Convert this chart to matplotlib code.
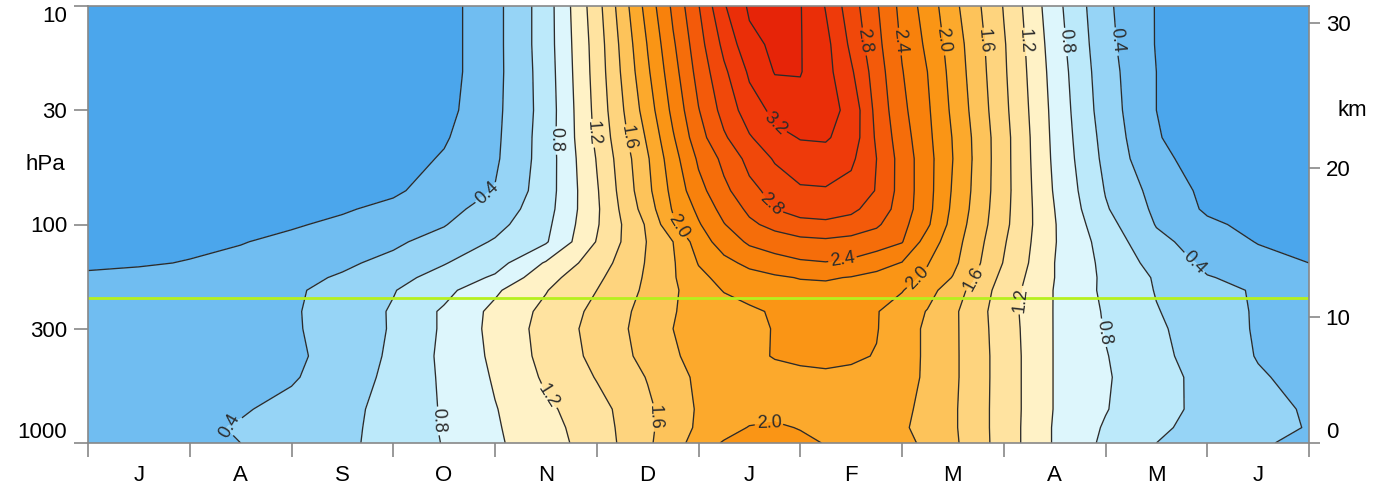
import numpy as np
import matplotlib

matplotlib.use("Agg")
import matplotlib.pyplot as plt
from matplotlib.ticker import NullLocator

plt.rcParams["font.family"] = ["Liberation Sans", "DejaVu Sans"]

# month letters, July .. June
months = ["J", "A", "S", "O", "N", "D", "J", "F", "M", "A", "M", "J"]

# grid columns in months from 1 July (0) to 30 June (12), finer in the winter core
col_month = [0, 0.5, 1, 1.5, 2, 2.5, 3, 3.5, 4, 4.5, 5, 5.5,
             5.75, 6, 6.25, 6.5, 6.75, 7, 7.25, 7.5, 7.75, 8, 8.25, 8.5,
             9, 9.5, 10, 10.5, 11, 11.5, 12]

# pressure levels (hPa) of the grid rows, surface first
pressure = [1000, 850, 700, 500, 400, 300, 250, 200, 175, 150, 120, 100, 85, 70, 50, 40, 30, 20, 15, 10]

# field values, one list per pressure level
r1000 = [0.27, 0.31, 0.35, 0.40, 0.48, 0.56, 0.67, 0.81, 0.97, 1.12, 1.29, 1.57,
         1.71, 1.89, 2.02, 2.05, 2.07, 2.05, 1.99, 1.94, 1.89, 1.84, 1.77, 1.64,
         1.31, 0.98, 0.76, 0.60, 0.51, 0.42, 0.36]
r850 = [0.28, 0.31, 0.35, 0.42, 0.49, 0.56, 0.66, 0.82, 0.98, 1.13, 1.31, 1.56,
        1.70, 1.83, 1.92, 2.01, 2.03, 1.99, 1.95, 1.91, 1.86, 1.82, 1.75, 1.63,
        1.31, 0.98, 0.78, 0.63, 0.54, 0.46, 0.39]
r700 = [0.27, 0.30, 0.33, 0.38, 0.46, 0.55, 0.66, 0.82, 0.99, 1.16, 1.33, 1.56,
        1.70, 1.82, 1.88, 1.92, 1.94, 1.94, 1.93, 1.91, 1.88, 1.84, 1.75, 1.63,
        1.31, 0.99, 0.81, 0.66, 0.55, 0.46, 0.38]
r500 = [0.28, 0.30, 0.32, 0.34, 0.38, 0.50, 0.65, 0.83, 1.02, 1.23, 1.41, 1.61,
        1.74, 1.83, 1.87, 1.91, 1.94, 1.96, 1.97, 1.95, 1.92, 1.87, 1.77, 1.64,
        1.31, 0.99, 0.82, 0.67, 0.54, 0.42, 0.34]
r400 = [0.29, 0.30, 0.32, 0.34, 0.37, 0.46, 0.64, 0.84, 1.04, 1.26, 1.45, 1.66,
        1.78, 1.85, 1.90, 1.96, 2.01, 2.03, 2.04, 2.03, 1.99, 1.88, 1.77, 1.64,
        1.31, 0.99, 0.81, 0.65, 0.51, 0.39, 0.33]
r300 = [0.29, 0.31, 0.33, 0.35, 0.38, 0.47, 0.62, 0.83, 1.06, 1.27, 1.47, 1.68,
        1.80, 1.85, 1.90, 1.95, 2.01, 2.04, 2.06, 2.04, 2.01, 1.88, 1.77, 1.64,
        1.30, 0.99, 0.79, 0.63, 0.50, 0.38, 0.32]
r250 = [0.28, 0.30, 0.32, 0.34, 0.38, 0.48, 0.62, 0.83, 1.05, 1.25, 1.45, 1.67,
        1.79, 1.86, 1.91, 1.97, 2.02, 2.04, 2.06, 2.04, 2.01, 1.91, 1.79, 1.64,
        1.29, 0.99, 0.78, 0.61, 0.49, 0.38, 0.32]
r200 = [0.27, 0.29, 0.31, 0.33, 0.37, 0.47, 0.59, 0.74, 0.97, 1.19, 1.40, 1.64,
        1.77, 1.90, 2.01, 2.06, 2.10, 2.13, 2.14, 2.12, 2.07, 2.01, 1.87, 1.70,
        1.31, 0.99, 0.76, 0.59, 0.46, 0.38, 0.31]
r175 = [0.24, 0.26, 0.28, 0.31, 0.35, 0.42, 0.54, 0.67, 0.83, 1.13, 1.36, 1.63,
        1.78, 1.95, 2.06, 2.12, 2.17, 2.21, 2.22, 2.19, 2.13, 2.06, 1.96, 1.79,
        1.34, 1.00, 0.76, 0.58, 0.41, 0.35, 0.28]
r150 = [0.16, 0.18, 0.21, 0.26, 0.32, 0.37, 0.45, 0.59, 0.72, 1.02, 1.30, 1.62,
        1.78, 2.01, 2.14, 2.25, 2.32, 2.37, 2.39, 2.36, 2.29, 2.19, 2.01, 1.85,
        1.39, 1.00, 0.75, 0.53, 0.36, 0.28, 0.20]
r120 = [0.12, 0.14, 0.16, 0.19, 0.25, 0.31, 0.37, 0.47, 0.62, 0.78, 1.21, 1.61,
        1.80, 2.10, 2.29, 2.43, 2.49, 2.54, 2.56, 2.53, 2.48, 2.41, 2.11, 1.89,
        1.42, 1.01, 0.72, 0.45, 0.31, 0.19, 0.14]
r100 = [0.10, 0.10, 0.11, 0.14, 0.18, 0.24, 0.32, 0.39, 0.54, 0.75, 1.18, 1.63,
        1.96, 2.18, 2.39, 2.56, 2.66, 2.74, 2.76, 2.72, 2.63, 2.46, 2.23, 1.93,
        1.45, 1.01, 0.67, 0.39, 0.24, 0.14, 0.10]
r85 = [0.10, 0.10, 0.10, 0.11, 0.13, 0.18, 0.25, 0.34, 0.48, 0.72, 1.17, 1.70,
       2.02, 2.24, 2.47, 2.64, 2.80, 2.87, 2.88, 2.84, 2.72, 2.51, 2.26, 1.96,
       1.46, 1.00, 0.62, 0.36, 0.17, 0.11, 0.10]
r70 = [0.10, 0.10, 0.10, 0.10, 0.10, 0.10, 0.17, 0.29, 0.41, 0.70, 1.18, 1.75,
       2.06, 2.33, 2.55, 2.74, 2.87, 2.97, 2.98, 2.92, 2.79, 2.52, 2.27, 1.98,
       1.47, 0.98, 0.59, 0.33, 0.15, 0.10, 0.10]
r50 = [0.10, 0.10, 0.10, 0.10, 0.10, 0.10, 0.11, 0.22, 0.37, 0.69, 1.21, 1.78,
       2.12, 2.43, 2.65, 2.86, 3.02, 3.11, 3.12, 3.04, 2.80, 2.52, 2.27, 2.00,
       1.47, 0.96, 0.55, 0.24, 0.13, 0.10, 0.10]
r40 = [0.10, 0.10, 0.10, 0.10, 0.10, 0.10, 0.10, 0.18, 0.36, 0.69, 1.24, 1.83,
       2.18, 2.52, 2.77, 2.98, 3.14, 3.21, 3.22, 3.12, 2.77, 2.49, 2.25, 1.99,
       1.47, 0.95, 0.53, 0.21, 0.12, 0.10, 0.10]
r30 = [0.10, 0.10, 0.10, 0.10, 0.10, 0.10, 0.10, 0.14, 0.35, 0.68, 1.26, 1.90,
       2.25, 2.59, 2.87, 3.10, 3.25, 3.32, 3.28, 3.14, 2.74, 2.45, 2.23, 1.96,
       1.45, 0.94, 0.50, 0.20, 0.11, 0.10, 0.10]
r20 = [0.10, 0.10, 0.10, 0.10, 0.10, 0.10, 0.10, 0.12, 0.34, 0.69, 1.28, 1.97,
       2.32, 2.67, 2.96, 3.23, 3.41, 3.41, 3.27, 3.03, 2.70, 2.41, 2.20, 1.93,
       1.43, 0.92, 0.48, 0.20, 0.10, 0.10, 0.10]
r15 = [0.10, 0.10, 0.10, 0.10, 0.10, 0.10, 0.10, 0.12, 0.34, 0.70, 1.29, 2.01,
       2.37, 2.72, 3.05, 3.34, 3.44, 3.41, 3.26, 2.96, 2.66, 2.38, 2.16, 1.91,
       1.42, 0.90, 0.46, 0.19, 0.10, 0.10, 0.10]
r10 = [0.10, 0.10, 0.10, 0.10, 0.10, 0.10, 0.10, 0.12, 0.34, 0.70, 1.32, 2.08,
       2.44, 2.79, 3.18, 3.43, 3.50, 3.41, 3.19, 2.89, 2.62, 2.34, 2.11, 1.86,
       1.39, 0.87, 0.44, 0.19, 0.10, 0.10, 0.10]

field = np.array([r1000, r850, r700, r500, r400, r300, r250, r200, r175, r150,
                  r120, r100, r85, r70, r50, r40, r30, r20, r15, r10])

# height axis: km and the matching standard-atmosphere pressure
km_labels = ["0", "10", "20", "30"]
km_pressure = [1000, 265, 55, 12]

tropopause_hpa = 217

levels = np.round(np.arange(0.0, 3.61, 0.2), 1)
label_levels = [0.4, 0.8, 1.2, 1.6, 2.0, 2.4, 2.8, 3.2]
plain_levels = [0.2, 0.6, 1.0, 1.4, 1.8, 2.2, 2.6, 3.0, 3.4]
fill_colors = [
    "#4ba6ec", "#70bdf1", "#96d4f6", "#bce9fa", "#ddf6fc",
    "#fff2c6", "#ffe3a0", "#fed47e", "#fdc35a", "#fca92c",
    "#fa9515", "#f8810c", "#f56d0a", "#f35a0a", "#f0480a",
    "#ee3a0a", "#ea2e08", "#e62408",
]

# where the contour labels sit (month, hPa)
label_spots = [
    (1.37, 800), (3.95, 75), (10.0, 14.5), (10.83, 156),
    (3.51, 790), (4.61, 41), (9.55, 14.5), (9.95, 314),
    (4.95, 38), (4.51, 616), (9.13, 14.5), (9.19, 222),
    (5.31, 40), (5.57, 760), (8.75, 14.5), (8.77, 185),
    (5.79, 103), (6.70, 845), (8.32, 14.5), (8.18, 180),
    (7.42, 150), (7.91, 14.5),
    (6.60, 89), (7.56, 14.5),
    (6.63, 38),
]

W, H = 1384, 493
fig = plt.figure(figsize=(W / 100, H / 100), dpi=100)
ax = fig.add_axes([88 / W, 50 / H, (1309 - 88) / W, (443 - 6) / H])
ax.set_yscale("log")
ax.set_ylim(1000, 10)
ax.set_xlim(0, 12)

line_style = dict(colors="#2b2b2b", linewidths=0.95)
ax.contourf(col_month, pressure, field, levels=levels, colors=fill_colors)
ax.contour(col_month, pressure, field, levels=plain_levels, **line_style)
cs = ax.contour(col_month, pressure, field, levels=label_levels, **line_style)
ax.set_ylim(1000, 10)
ax.set_xlim(0, 12)
ax.clabel(cs, fmt="%.1f", fontsize=13, inline=True, inline_spacing=2, manual=label_spots)
ax.axhline(tropopause_hpa, color="#b6f01e", lw=2)

gray = "#888888"
for side in ax.spines.values():
    side.set_color(gray)
    side.set_linewidth(1.2)

ax.set_xticks(range(13))
ax.set_xticklabels([])
ax.set_xticks(np.arange(0.5, 12, 1.0), minor=True)
ax.set_xticklabels(months, minor=True)
ax.tick_params(axis="x", which="major", length=10, width=1.2, color=gray)
ax.tick_params(axis="x", which="minor", length=0, pad=16, labelsize=16)

ax.yaxis.set_minor_locator(NullLocator())
ax.set_yticks([10, 30, 100, 300, 1000])
ylabels = ax.set_yticklabels(["10", "30", "100", "300", "1000"])
ylabels[0].set_va("top")
ylabels[-1].set_va("bottom")
ax.tick_params(axis="y", length=10, width=1.2, color=gray, pad=5, labelsize=16)

ax2 = ax.twinx()
ax2.set_yscale("log")
ax2.set_ylim(1000, 10)
ax2.yaxis.set_minor_locator(NullLocator())
ax2.set_yticks(km_pressure)
klabels = ax2.set_yticklabels(km_labels)
klabels[0].set_va("bottom")
ax2.tick_params(axis="y", length=8, width=1.2, color=gray, pad=4, labelsize=16)
for side in ax2.spines.values():
    side.set_visible(False)

fig.text(45 / W, 1 - 165 / H, "hPa", ha="center", va="center", fontsize=16)
fig.text(1352 / W, 1 - 110 / H, "km", ha="center", va="center", fontsize=16)

fig.savefig("out.png", dpi=100)
